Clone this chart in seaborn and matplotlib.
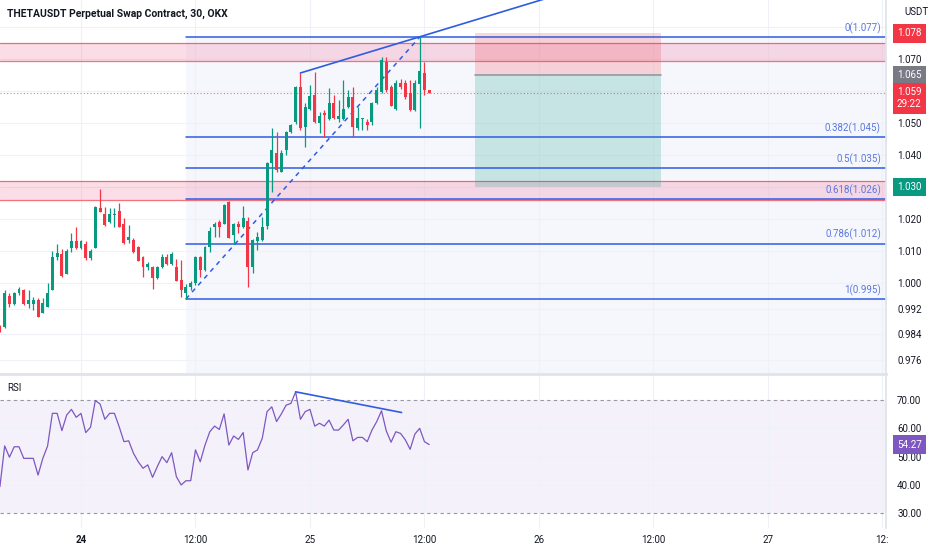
import matplotlib
matplotlib.use("Agg")
import matplotlib.pyplot as plt
import matplotlib.transforms as mtransforms
import numpy as np
import seaborn as sns

# %%
# data (30 min bars, bar 0 = day 24 00:00)
bar_idx = list(range(-17, 74))

opens = [
    0.9863, 0.9863, 0.9959, 0.9934, 0.9969, 0.9978, 0.9934, 0.9934, 0.9947, 0.9906,
    0.9925, 0.9978, 1.0081, 1.0091, 1.0028, 1.0109, 1.0131, 1.0109, 1.0122, 1.0078,
    1.0109, 1.0234, 1.0216, 1.0191, 1.0213, 1.0225, 1.0184, 1.0134, 1.0134, 1.0113,
    1.0081, 1.0050, 1.0050, 1.0016, 1.0050, 1.0081, 1.0059, 1.0050, 1.0009, 0.9969,
    0.9988, 1.0000, 1.0081, 1.0041, 1.0113, 1.0175, 1.0191, 1.0184, 1.0253, 1.0150,
    1.0184, 1.0175, 1.0194, 1.0050, 1.0131, 1.0134, 1.0178, 1.0375, 1.0406, 1.0347,
    1.0416, 1.0472, 1.0503, 1.0613, 1.0488, 1.0544, 1.0588, 1.0500, 1.0531, 1.0513,
    1.0563, 1.0513, 1.0513, 1.0550, 1.0581, 1.0484, 1.0513, 1.0503, 1.0503, 1.0563,
    1.0597, 1.0691, 1.0613, 1.0544, 1.0625, 1.0625, 1.0594, 1.0541, 1.0622, 1.0656,
    1.0603,
]
highs = [
    0.9869, 0.9978, 0.9969, 0.9972, 0.9988, 0.9981, 0.9978, 0.9956, 0.9953, 0.9953,
    1.0000, 1.0100, 1.0122, 1.0106, 1.0106, 1.0156, 1.0175, 1.0134, 1.0131, 1.0106,
    1.0241, 1.0294, 1.0238, 1.0234, 1.0234, 1.0250, 1.0203, 1.0181, 1.0141, 1.0116,
    1.0084, 1.0066, 1.0053, 1.0053, 1.0091, 1.0091, 1.0097, 1.0075, 1.0072, 0.9997,
    1.0006, 1.0084, 1.0084, 1.0116, 1.0175, 1.0191, 1.0197, 1.0247, 1.0256, 1.0188,
    1.0194, 1.0241, 1.0206, 1.0138, 1.0159, 1.0206, 1.0378, 1.0484, 1.0472, 1.0416,
    1.0475, 1.0497, 1.0616, 1.0656, 1.0563, 1.0619, 1.0659, 1.0534, 1.0541, 1.0609,
    1.0588, 1.0572, 1.0634, 1.0603, 1.0613, 1.0550, 1.0516, 1.0513, 1.0566, 1.0613,
    1.0706, 1.0706, 1.0619, 1.0634, 1.0638, 1.0634, 1.0634, 1.0634, 1.0769, 1.0691,
    1.0603,
]
lows = [
    0.9847, 0.9859, 0.9925, 0.9931, 0.9963, 0.9931, 0.9922, 0.9916, 0.9894, 0.9906,
    0.9925, 0.9978, 1.0072, 1.0019, 1.0028, 1.0097, 1.0106, 1.0106, 1.0072, 1.0072,
    1.0109, 1.0222, 1.0178, 1.0188, 1.0175, 1.0175, 1.0122, 1.0125, 1.0094, 1.0069,
    1.0019, 1.0041, 0.9981, 1.0013, 1.0047, 1.0056, 1.0056, 1.0006, 0.9956, 0.9950,
    0.9978, 0.9994, 1.0019, 1.0038, 1.0097, 1.0144, 1.0144, 1.0184, 1.0141, 1.0122,
    1.0156, 1.0172, 0.9988, 1.0031, 1.0103, 1.0131, 1.0169, 1.0284, 1.0347, 1.0347,
    1.0400, 1.0469, 1.0497, 1.0478, 1.0425, 1.0541, 1.0500, 1.0469, 1.0456, 1.0509,
    1.0513, 1.0503, 1.0509, 1.0547, 1.0456, 1.0478, 1.0478, 1.0478, 1.0494, 1.0559,
    1.0594, 1.0597, 1.0553, 1.0541, 1.0606, 1.0575, 1.0538, 1.0538, 1.0484, 1.0588,
    1.0594,
]
closes = [
    0.9853, 0.9969, 0.9934, 0.9969, 0.9981, 0.9934, 0.9947, 0.9947, 0.9894, 0.9938,
    0.9969, 1.0081, 1.0094, 1.0022, 1.0100, 1.0131, 1.0109, 1.0131, 1.0078, 1.0100,
    1.0238, 1.0222, 1.0181, 1.0216, 1.0216, 1.0175, 1.0125, 1.0144, 1.0097, 1.0069,
    1.0050, 1.0059, 1.0016, 1.0050, 1.0081, 1.0059, 1.0091, 1.0006, 0.9978, 0.9988,
    1.0000, 1.0081, 1.0041, 1.0113, 1.0163, 1.0184, 1.0175, 1.0244, 1.0141, 1.0184,
    1.0175, 1.0203, 1.0050, 1.0134, 1.0144, 1.0175, 1.0375, 1.0416, 1.0353, 1.0406,
    1.0472, 1.0494, 1.0613, 1.0484, 1.0550, 1.0584, 1.0503, 1.0522, 1.0525, 1.0563,
    1.0516, 1.0522, 1.0544, 1.0581, 1.0488, 1.0516, 1.0516, 1.0494, 1.0563, 1.0603,
    1.0697, 1.0603, 1.0553, 1.0625, 1.0613, 1.0581, 1.0541, 1.0625, 1.0663, 1.0603,
    1.0594,
]
rsi = [
    39.4, 53.8, 49.8, 53.5, 53.5, 49.4, 49.4, 49.4, 43.5, 49.4,
    53.8, 65.3, 65.3, 59.2, 64.7, 66.7, 63.9, 65.3, 58.5, 60.4,
    69.8, 68.6, 63.2, 65.3, 65.3, 60.6, 55.3, 55.6, 51.2, 48.2,
    45.9, 47.1, 42.7, 46.5, 50.0, 47.9, 51.4, 42.9, 40.0, 41.5,
    41.5, 52.4, 48.2, 54.1, 58.8, 60.8, 59.6, 65.1, 54.1, 57.3,
    56.1, 58.5, 45.3, 51.4, 52.4, 56.5, 65.9, 67.6, 62.4, 65.1,
    68.2, 68.8, 72.9, 63.2, 65.9, 66.7, 60.8, 61.8, 60.8, 62.9,
    59.4, 59.4, 61.2, 63.2, 55.6, 56.8, 56.8, 55.3, 59.4, 62.4,
    66.2, 59.1, 55.1, 58.8, 58.2, 55.9, 52.6, 58.0, 60.0, 55.3,
    54.27,
]

# drawings
fib_ratios = ["0", "0.382", "0.5", "0.618", "0.786", "1"]
fib_prices = [1.0768, 1.0456, 1.0358, 1.0261, 1.0123, 0.9950]
fib_labels = ["1.077", "1.045", "1.035", "1.026", "1.012", "0.995"]
fib_anchor = (22, 71)  # bars of the swing low / high
zones = [(1.0693, 1.0749), (1.0259, 1.0320)]
pos_bars = (82.5, 121.5)
entry, stop, target = 1.065, 1.078, 1.030
last_price = 1.0594
div_price = [(46, 1.0656), (71, 1.0769)]
div_rsi = [(45, 72.9), (67.2, 65.6)]

price_ticks = [1.080, 1.070, 1.060, 1.050, 1.040, 1.030, 1.020, 1.010, 1.000, 0.992, 0.984, 0.976]
price_tick_labels = ["", "1.070", "", "1.050", "1.040", "", "1.020", "1.010", "1.000", "0.992", "0.984", "0.976"]
rsi_ticks = [70, 60, 50, 40, 30]
time_ticks = [0, 24, 48, 72, 96, 120, 144, 168]
time_labels = ["24", "12:00", "25", "12:00", "26", "12:00", "27", "12:"]

# %%
sns.set_theme(style="white")
plt.rcParams["font.family"] = ["Roboto", "DejaVu Sans"]

GREEN, RED, BLUE, PURPLE = "#089981", "#f23645", "#2f5ce0", "#7e57c2"
TXT, GRID = "#131722", "#eef1f6"

fig = plt.figure(figsize=(9.32, 5.5), dpi=100)
ax = fig.add_axes([0, 0.32, 886 / 932, 0.68])
ax2 = fig.add_axes([0, 0.04, 886 / 932, 0.2764])
xlim = (-16.98, 168.76)
ylim = (0.97156, 1.0884)

# price panel
ax.set_xlim(*xlim)
ax.set_ylim(*ylim)
ax.fill_between([fib_anchor[0], xlim[1]], ylim[0], fib_prices[0], color="#f6f7fc", lw=0, zorder=0)
for t in time_ticks:
    ax.axvline(t, color=GRID, lw=0.8, zorder=0.5)
    ax2.axvline(t, color=GRID, lw=0.8, zorder=0.5)
for p in price_ticks:
    ax.axhline(p, color=GRID, lw=0.8, zorder=0.5)

for lo, hi in zones:
    ax.axhspan(lo, hi, color="#e91e63", alpha=0.15, lw=0, zorder=1)
    ax.axhline(lo, color=RED, lw=0.9, alpha=0.7, zorder=1.2)
    ax.axhline(hi, color=RED, lw=0.9, alpha=0.7, zorder=1.2)

# short position box
ax.fill_between(pos_bars, entry, stop, color=RED, alpha=0.2, lw=0, zorder=1.5)
ax.fill_between(pos_bars, target, entry, color=GREEN, alpha=0.2, lw=0, zorder=1.5)
ax.plot(pos_bars, [entry, entry], color="#9598a1", lw=1.2, zorder=1.6)

# fib retracement
for r, p, lab in zip(fib_ratios, fib_prices, fib_labels):
    ax.plot([fib_anchor[0], xlim[1]], [p, p], color=BLUE, lw=1.1, zorder=2)
    ax.annotate(f"{r}({lab})", xy=(167.7, p), xytext=(0, 6.5), textcoords="offset points",
                ha="right", va="center", color="#5a78e0", fontsize=7)
ax.plot(fib_anchor, [fib_prices[-1], fib_prices[0]], color=BLUE, lw=1.1,
        ls=(0, (3, 3)), zorder=2)

ax.axhline(last_price, color=RED, lw=0.8, ls=(0, (1, 2)), alpha=0.7, zorder=1.8)

# candles
o, h, l, c = map(np.array, (opens, highs, lows, closes))
cols = [GREEN if cc >= oo else RED for oo, cc in zip(o, c)]
ax.vlines(bar_idx, l, h, colors=cols, lw=0.9, zorder=3)
ax.bar(bar_idx, np.maximum(np.abs(c - o), 0.0003), bottom=np.minimum(o, c),
       width=0.62, color=cols, lw=0, zorder=3)

# rising line across the highs
(x0, y0), (x1, y1) = div_price
ax.plot([x0, 110], [y0, y0 + (y1 - y0) / (x1 - x0) * (110 - x0)], color=BLUE, lw=1.2, zorder=4)

ax.yaxis.tick_right()
ax.set_yticks(price_ticks, labels=price_tick_labels)
ax.tick_params(axis="y", length=0, pad=8, labelsize=7, labelcolor=TXT)
ax.set_xticks([])
for s in ["top", "left"]:
    ax.spines[s].set_visible(False)
ax.spines["right"].set_color("#e0e3eb")
ax.spines["bottom"].set_color("#e0e3eb")
ax.spines["bottom"].set_linewidth(2)

trans = mtransforms.blended_transform_factory(ax.transAxes, ax.transData)


def price_box(y, text, fc, dy=0):
    ax.annotate(text, xy=(1.0124, y), xycoords=trans, xytext=(0, dy), textcoords="offset points",
                ha="left", va="center" if dy == 0 else "top", color="white", fontsize=7,
                linespacing=1.25, annotation_clip=False,
                bbox=dict(boxstyle="square,pad=0.45", fc=fc, ec="none"))


price_box(stop, "1.078", RED)
price_box(entry, "1.065", "#787b86")
price_box(last_price, "1.059\n29:22", RED, dy=4)
price_box(target, "1.030", GREEN)
fig.text(904 / 932, 1 - 12 / 550, "USDT", fontsize=7, color=TXT, va="center")

fig.text(7 / 932, 1 - 14 / 550, "THETAUSDT Perpetual Swap Contract, 30, OKX",
         fontsize=7.5, weight="semibold", color=TXT, va="center")

# RSI panel
ax2.set_xlim(*xlim)
ax2.set_ylim(24.8, 78.5)
ax2.fill_between(xlim, 30, 70, color=PURPLE, alpha=0.08, lw=0, zorder=0)
for v in [40, 50, 60]:
    ax2.axhline(v, color=GRID, lw=0.8, zorder=0.5)
for v in [30, 70]:
    ax2.axhline(v, color="#9598a1", lw=0.8, ls=(0, (3, 3)), zorder=1)
sns.lineplot(x=bar_idx, y=rsi, ax=ax2, color=PURPLE, lw=0.9, zorder=3)
ax2.plot(*zip(*div_rsi), color=BLUE, lw=1.2, zorder=4)

ax2.yaxis.tick_right()
ax2.set_yticks(rsi_ticks, labels=[f"{v:.2f}" for v in rsi_ticks])
ax2.tick_params(axis="y", length=0, pad=8, labelsize=7, labelcolor=TXT)
ax2.set_xticks(time_ticks, labels=time_labels)
ax2.tick_params(axis="x", length=0, pad=5, labelsize=7, labelcolor=TXT)
ax2.get_xticklabels()[0].set_fontweight("bold")
for s in ["top", "left", "bottom"]:
    ax2.spines[s].set_visible(False)
ax2.spines["right"].set_color("#e0e3eb")
ax2.set_xlabel("")
ax2.set_ylabel("")
ax2.annotate(f"{rsi[-1]:.2f}", xy=(1.0124, rsi[-1]),
             xycoords=mtransforms.blended_transform_factory(ax2.transAxes, ax2.transData),
             ha="left", va="center", color="white", fontsize=7, annotation_clip=False,
             bbox=dict(boxstyle="square,pad=0.45", fc=PURPLE, ec="none"))
fig.text(7 / 932, 1 - 388 / 550, "RSI", fontsize=7, color=TXT, va="center")

fig.savefig("out.png", dpi=100)
